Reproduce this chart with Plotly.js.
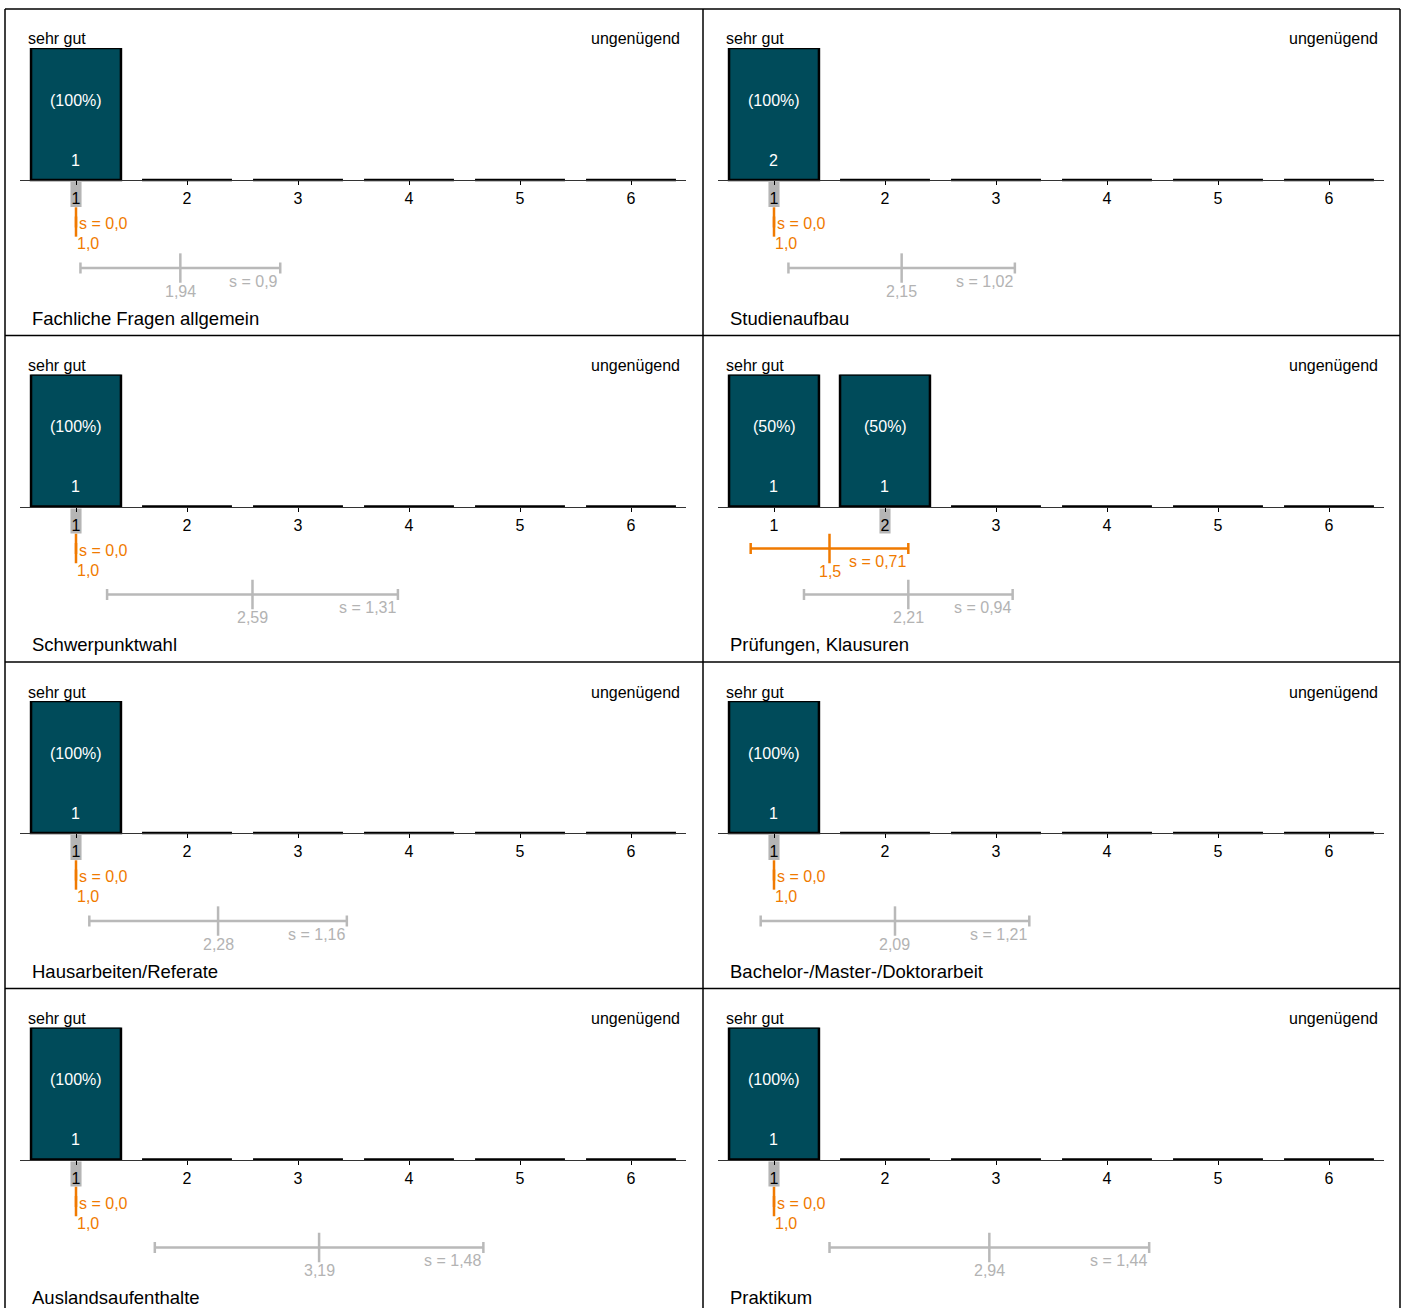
<!DOCTYPE html>
<html>
<head>
<meta charset="utf-8">
<script src="https://cdn.plot.ly/plotly-3.0.1.min.js"></script>
<style>html,body{margin:0;padding:0;background:#fff;}#chart{width:1404px;height:1308px;}</style>
</head>
<body>
<div id="chart"></div>
<script>
// ---------- data ----------
const categories = [1, 2, 3, 4, 5, 6];
const tickLabels = ['1', '2', '3', '4', '5', '6'];
const itemNames = ['Fachliche Fragen allgemein', 'Studienaufbau', 'Schwerpunktwahl', 'Prüfungen, Klausuren',
  'Hausarbeiten/Referate', 'Bachelor-/Master-/Doktorarbeit', 'Auslandsaufenthalte', 'Praktikum'];
const percents = [
  [100, 0, 0, 0, 0, 0],
  [100, 0, 0, 0, 0, 0],
  [100, 0, 0, 0, 0, 0],
  [50, 50, 0, 0, 0, 0],
  [100, 0, 0, 0, 0, 0],
  [100, 0, 0, 0, 0, 0],
  [100, 0, 0, 0, 0, 0],
  [100, 0, 0, 0, 0, 0]
];
const counts = [
  [1, 0, 0, 0, 0, 0],
  [2, 0, 0, 0, 0, 0],
  [1, 0, 0, 0, 0, 0],
  [1, 1, 0, 0, 0, 0],
  [1, 0, 0, 0, 0, 0],
  [1, 0, 0, 0, 0, 0],
  [1, 0, 0, 0, 0, 0],
  [1, 0, 0, 0, 0, 0]
];
const medians = [1, 1, 1, 2, 1, 1, 1, 1];
const ownMeans = [1.0, 1.0, 1.0, 1.5, 1.0, 1.0, 1.0, 1.0];
const ownSDs = [0.0, 0.0, 0.0, 0.71, 0.0, 0.0, 0.0, 0.0];
const cmpMeans = [1.94, 2.15, 2.59, 2.21, 2.28, 2.09, 3.19, 2.94];
const cmpSDs = [0.9, 1.02, 1.31, 0.94, 1.16, 1.21, 1.48, 1.44];
const leftLabel = 'sehr gut';
const rightLabel = 'ungenügend';

// ---------- style ----------
const W = 1404, H = 1308;
const FONT = 'Liberation Sans, Arial, sans-serif';
const BAR = '#004b5a';
const ORANGE = '#f07a00';
const GREY = '#b9b9b9';
const GREYTXT = '#b3b3b3';
const px = v => v / W;
const py = v => 1 - v / H;
function fmt(v) { let s = String(v); if (s.indexOf('.') < 0) s += '.0'; return s.replace('.', ','); }

const traces = [], annotations = [], shapes = [];
const layout = {
  width: W, height: H, margin: {l: 0, r: 0, t: 0, b: 0},
  paper_bgcolor: '#fff', plot_bgcolor: 'rgba(0,0,0,0)',
  showlegend: false, font: {family: FONT, size: 16, color: '#000'},
  bargap: 0.18, annotations, shapes
};

itemNames.forEach((name, i) => {
  const c = i % 2, r = Math.floor(i / 2);
  const L = 5 + c * 698, T = 9 + r * 326.5;
  const xa = 'x' + (i + 1), ya = 'y' + (i + 1);
  const xk = 'xaxis' + (i + 1), yk = 'yaxis' + (i + 1);
  const maxv = Math.max(...percents[i]);
  const baseline = T + 171;
  layout[xk] = {
    domain: [px(L + 15), px(L + 681)], range: [0.4955, 6.4955], anchor: 'free', position: py(baseline),
    tickvals: categories, ticktext: tickLabels, ticks: 'outside', ticklen: 4, tickwidth: 1, tickcolor: '#000',
    showline: true, linecolor: '#333', linewidth: 1, showgrid: false, zeroline: false,
    tickfont: {size: 16, color: '#000', family: FONT}, fixedrange: true
  };
  layout[yk] = {
    domain: [py(T + 303), py(T + 39)], range: [-maxv, maxv], anchor: xa,
    visible: false, showgrid: false, zeroline: false, fixedrange: true
  };
  traces.push({
    type: 'bar', x: categories, y: percents[i], xaxis: xa, yaxis: ya, width: 0.81,
    marker: {color: BAR, line: {color: '#000', width: 2.5}}, hoverinfo: 'skip'
  });
  // bar labels
  categories.forEach((cat, k) => {
    if (percents[i][k] > 0) {
      annotations.push({x: cat, y: maxv * 0.606, xref: xa, yref: ya, text: '(' + percents[i][k] + '%)',
        showarrow: false, font: {color: '#fff', size: 16}});
      annotations.push({x: cat, y: maxv * 0.15, xref: xa, yref: ya, text: String(counts[i][k]),
        xshift: -1, showarrow: false, font: {color: '#fff', size: 16}});
    }
  });
  // median highlight
  shapes.push({type: 'rect', layer: 'below', xref: xa, yref: 'paper', x0: medians[i] - 0.05, x1: medians[i] + 0.05,
    y0: py(baseline + 27), y1: py(baseline + 2), fillcolor: '#b5b5b5', line: {width: 0}});
  // own mean (orange) and comparison (grey)
  const rows = [
    {m: ownMeans[i], s: ownSDs[i], y: -0.318 * maxv, col: ORANGE, txt: ORANGE},
    {m: cmpMeans[i], s: cmpSDs[i], y: -0.667 * maxv, col: GREY, txt: GREYTXT}
  ];
  rows.forEach(rw => {
    traces.push({
      type: 'scatter', mode: 'markers', x: [rw.m], y: [rw.y], xaxis: xa, yaxis: ya, hoverinfo: 'skip',
      error_x: {type: 'data', array: [rw.s], color: rw.col, thickness: 2.5, width: 5.5},
      marker: {symbol: 'line-ns', size: 21, line: {color: rw.col, width: 2.5}, color: rw.col}
    });
    if (rw.s > 0) {
      annotations.push({x: rw.m, y: rw.y, xref: xa, yref: ya, yshift: -23, text: fmt(rw.m), showarrow: false,
        font: {color: rw.txt, size: 16}});
      annotations.push({x: rw.m + rw.s, y: rw.y, xref: xa, yref: ya, yshift: -13, xanchor: 'right', text: 's = ' + fmt(rw.s),
        showarrow: false, font: {color: rw.txt, size: 16}});
    } else {
      annotations.push({x: rw.m, y: rw.y, xref: xa, yref: ya, yshift: -22, xanchor: 'left', xshift: -1.5, text: fmt(rw.m),
        showarrow: false, font: {color: rw.txt, size: 16}});
      annotations.push({x: rw.m, y: rw.y, xref: xa, yref: ya, yshift: -2, xanchor: 'left', xshift: 1, text: 's = ' + fmt(rw.s),
        showarrow: false, font: {color: rw.txt, size: 16}});
    }
  });
  // panel texts
  annotations.push({xref: 'paper', yref: 'paper', x: px(L + 21), y: py(T + 30), xanchor: 'left', yanchor: 'middle',
    text: leftLabel, showarrow: false, font: {size: 16}});
  annotations.push({xref: 'paper', yref: 'paper', x: px(L + 677), y: py(T + 30), xanchor: 'right', yanchor: 'middle',
    text: rightLabel, showarrow: false, font: {size: 16}});
  annotations.push({xref: 'paper', yref: 'paper', x: px(L + 25), y: py(T + 309), xanchor: 'left', yanchor: 'middle',
    text: name, showarrow: false, font: {size: 18.5}});
});

// panel frame
const frameLine = {color: '#000', width: 1.5};
shapes.push({type: 'line', xref: 'paper', yref: 'paper', x0: px(5), x1: px(5), y0: py(1320), y1: py(9), line: frameLine});
shapes.push({type: 'line', xref: 'paper', yref: 'paper', x0: px(1400), x1: px(1400), y0: py(1320), y1: py(9), line: frameLine});
shapes.push({type: 'line', xref: 'paper', yref: 'paper', x0: px(703), x1: px(703), y0: py(1320), y1: py(9), line: frameLine});
[9, 335.5, 662, 988.5].forEach(yv => shapes.push({type: 'line', xref: 'paper', yref: 'paper', x0: px(5), x1: px(1400),
  y0: py(yv), y1: py(yv), line: frameLine}));

Plotly.newPlot('chart', traces, layout, {displayModeBar: false, staticPlot: true});
</script>
</body>
</html>
